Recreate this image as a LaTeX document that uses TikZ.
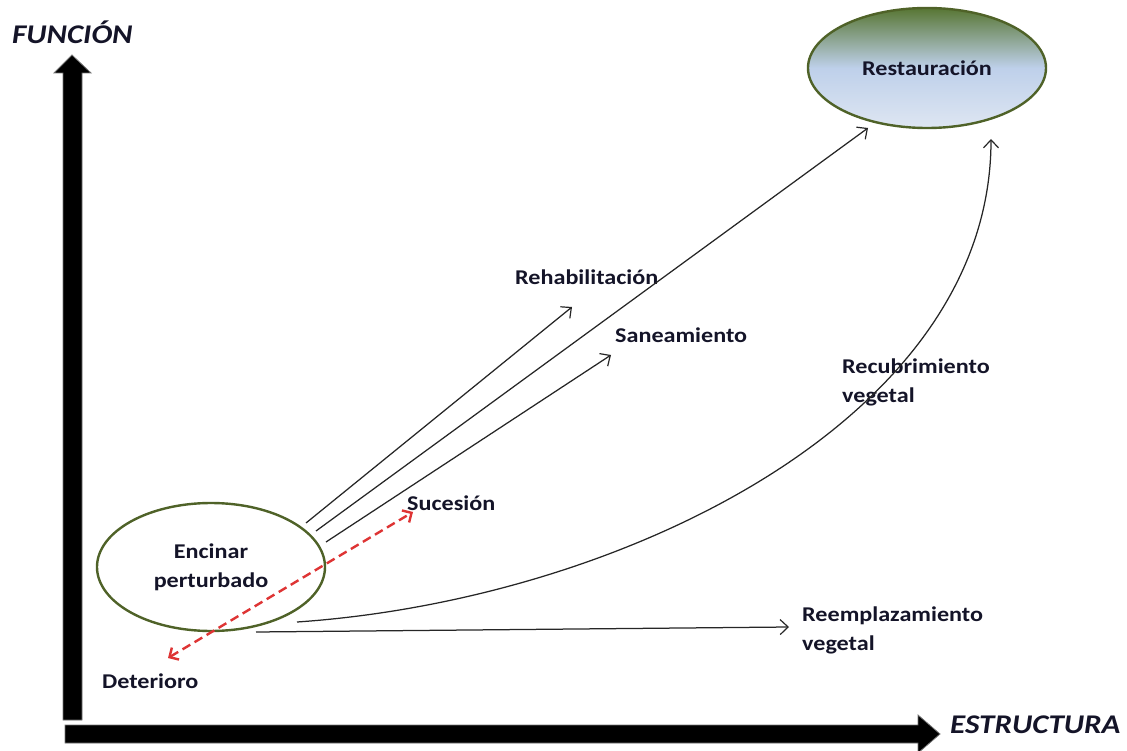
\documentclass[tikz,border=0pt]{standalone}
\usepackage{fontspec}
\setmainfont{Carlito}[FakeStretch=1.15]
\usetikzlibrary{arrows.meta,shapes.geometric}
\definecolor{olivedk}{RGB}{79,98,40}
\definecolor{gtop}{RGB}{88,118,52}
\definecolor{gmid}{RGB}{190,208,234}
\definecolor{gbot}{RGB}{222,230,242}
\definecolor{reddash}{RGB}{222,52,52}
\definecolor{txt}{RGB}{20,20,40}
\tikzset{
  lbl/.style={font=\fontsize{21}{29}\selectfont\bfseries, text=txt, inner sep=0pt, align=left},
  axlbl/.style={font=\fontsize{27}{30}\selectfont\bfseries\itshape, text=txt, inner sep=0pt},
  ell/.style={ellipse, draw=olivedk, line width=2.4pt, inner sep=0pt, align=center,
              font=\fontsize{21}{29}\selectfont\bfseries, text=txt},
  conn/.style={line width=1.25pt, draw=black!85, -{Straight Barb[length=8pt,width=15pt,line width=1.2pt]}},
  dashconn/.style={line width=2.4pt, draw=reddash, dash pattern=on 9pt off 5pt,
     {Straight Barb[length=7pt,width=14pt,line width=2.4pt]}-{Straight Barb[length=7pt,width=14pt,line width=2.4pt]}},
  axis/.style={fill=black, draw=black!55, line width=0.8pt}
}
\begin{document}
\begin{tikzpicture}[x=1pt,y=-1pt]
\useasboundingbox (0,0) rectangle (1127,751);
% axes
\path[axis] (63,720) -- (63,73) -- (54,73) -- (72,55) -- (91,73) -- (82,73) -- (82,720) -- cycle;
\path[axis] (65,725) -- (918,725) -- (918,715) -- (940,734) -- (918,753) -- (918,743) -- (65,743) -- cycle;
\node[axlbl, anchor=base west] (fun) at (12,44) {FUNCIÓN};
\node[axlbl, anchor=base west] (est) at (950,733) {ESTRUCTURA};
% ellipses
\node[ell, minimum width=228pt, minimum height=128pt] (enc) at (211,567) {Encinar\\perturbado};
\node[ell, minimum width=238pt, minimum height=120pt, top color=gtop, bottom color=gbot, middle color=gmid] (rest) at (927,68) {Restauración};
% labels
\node[lbl, anchor=base west] (rehab) at (515,285) {Rehabilitación};
\node[lbl, anchor=base west] (sanea) at (615,342) {Saneamiento};
\node[lbl, anchor=base west] (suc) at (407,510) {Sucesión};
\node[lbl, anchor=base west] (det) at (102,688) {Deterioro};
\node[lbl, anchor=base west] (recub) at (842,402) {Recubrimiento\\vegetal};
\node[lbl, anchor=base west] (reemp) at (802,650) {Reemplazamiento\\vegetal};
% connector end points
\coordinate (r0) at (306,523);
\coordinate (r1) at (572,307);
\coordinate (l0) at (316,531);
\coordinate (l1) at (868,128);
\coordinate (s0) at (326,542);
\coordinate (s1) at (611,355);
\coordinate (d0) at (168,658);
\coordinate (d1) at (413,512);
\coordinate (c0) at (297,622);
\coordinate (c1) at (991,139);
\coordinate (e0) at (256,632);
\coordinate (e1) at (789,627);
% connectors
\draw[conn] (r0) -- (r1);
\draw[conn] (l0) -- (l1);
\draw[conn] (s0) -- (s1);
\draw[conn] (c0) .. controls (620,600) and (991,420) .. (c1);
\draw[conn] (e0) -- (e1);
\draw[dashconn] (d0) -- (d1);
\end{tikzpicture}
\end{document}
